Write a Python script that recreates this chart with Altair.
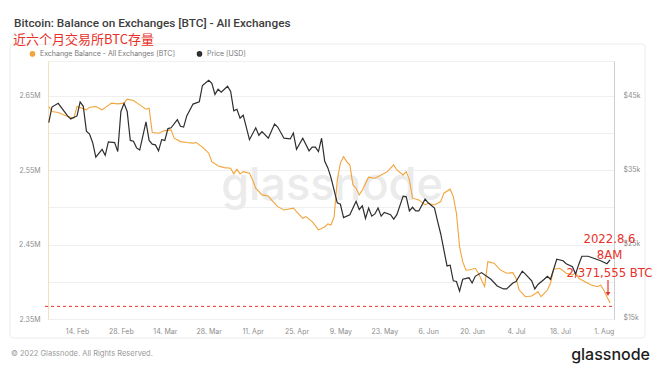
import altair as alt
import pandas as pd

# ---------------- data ----------------
price_dates = [
    "02-05", "02-06", "02-08", "02-11", "02-12", "02-14", "02-15", "02-16", "02-17", "02-18",
    "02-19", "02-20", "02-22", "02-23", "02-24", "02-26", "02-27", "02-28", "03-01", "03-02",
    "03-03", "03-04", "03-05", "03-06", "03-08", "03-09", "03-10", "03-11", "03-12", "03-13",
    "03-14", "03-15", "03-16", "03-18", "03-19", "03-20", "03-21", "03-23", "03-25", "03-26",
    "03-28", "03-29", "03-30", "03-31", "04-01", "04-03", "04-04", "04-05", "04-06", "04-07",
    "04-08", "04-10", "04-12", "04-13", "04-14", "04-16", "04-18", "04-19", "04-21", "04-23",
    "04-24", "04-25", "04-27", "04-29", "04-30", "05-01", "05-02", "05-03", "05-04", "05-05",
    "05-06", "05-08", "05-09", "05-10", "05-12", "05-14", "05-15", "05-16", "05-17", "05-18",
    "05-19", "05-20", "05-21", "05-22", "05-23", "05-25", "05-26", "05-27", "05-29", "05-30",
    "05-31", "06-01", "06-02", "06-03", "06-05", "06-06", "06-08", "06-09", "06-10", "06-12",
    "06-13", "06-14", "06-15", "06-16", "06-17", "06-19", "06-20", "06-21", "06-23", "06-26",
    "06-28", "06-30", "07-01", "07-03", "07-04", "07-06", "07-07", "07-09", "07-10", "07-11",
    "07-13", "07-14", "07-15", "07-17", "07-19", "07-20", "07-22", "07-23", "07-24", "07-25",
    "07-27", "07-29", "07-31", "08-02", "08-03",
]
price_usd = [
    41300, 43400, 43900, 42200, 41800, 42200, 44100, 43500, 40150, 39750,
    38600, 36650, 37700, 36900, 38700, 38600, 37400, 42800, 43900, 42800,
    38900, 38800, 37900, 37600, 41400, 38900, 38400, 38300, 37500, 39000,
    38900, 40500, 40600, 41700, 40800, 40700, 42200, 43800, 44100, 46300,
    47000, 46600, 45100, 45800, 45400, 46200, 45500, 42900, 43100, 41900,
    42300, 39000, 40600, 39600, 40100, 39200, 41100, 40700, 39200, 39100,
    39900, 37700, 39200, 37500, 38000, 38000, 37400, 39200, 36100, 35200,
    33900, 30500, 30300, 28500, 28900, 30700, 29600, 30100, 28400, 29800,
    28700, 29000, 29800, 28700, 29200, 28900, 28300, 28900, 31400, 31300,
    29400, 29900, 29400, 29400, 31000, 30500, 29800, 28000, 26300, 22000,
    22100, 20000, 19900, 18600, 20200, 20400, 19700, 20600, 21100, 20200,
    19300, 18900, 18900, 19700, 19900, 21300, 20900, 20000, 18900, 19500,
    20200, 20600, 20200, 22900, 22700, 22300, 21900, 20900, 22200, 23300,
    23300, 23000, 22700, 22300, 22800,
]

balance_dates = [
    "02-05", "02-06", "02-08", "02-11", "02-13", "02-14", "02-17", "02-18", "02-20", "02-22",
    "02-25", "02-27", "03-01", "03-02", "03-04", "03-06", "03-08", "03-09", "03-10", "03-12",
    "03-14", "03-16", "03-17", "03-19", "03-21", "03-23", "03-24", "03-26", "03-28", "03-29",
    "03-31", "04-02", "04-04", "04-05", "04-06", "04-07", "04-08", "04-10", "04-11", "04-12",
    "04-14", "04-16", "04-17", "04-19", "04-21", "04-24", "04-25", "04-27", "04-28", "04-30",
    "05-02", "05-04", "05-05", "05-06", "05-07", "05-08", "05-09", "05-10", "05-11", "05-12",
    "05-13", "05-14", "05-15", "05-16", "05-18", "05-20", "05-22", "05-24", "05-25", "05-26",
    "05-27", "05-29", "05-30", "05-31", "06-01", "06-03", "06-05", "06-06", "06-08", "06-10",
    "06-11", "06-13", "06-14", "06-15", "06-16", "06-17", "06-18", "06-19", "06-21", "06-22",
    "06-24", "06-25", "06-27", "06-29", "07-01", "07-03", "07-04", "07-05", "07-07", "07-09",
    "07-11", "07-12", "07-14", "07-15", "07-16", "07-18", "07-20", "07-22", "07-23", "07-24",
    "07-26", "07-28", "07-30", "07-31", "08-01", "08-02", "08-03",
]
balance_btc = [
    2635700, 2629000, 2627700, 2622300, 2620100, 2635700, 2631300, 2634900, 2635700, 2631300,
    2640300, 2639400, 2640300, 2645700, 2643800, 2638000, 2632200, 2633600, 2600700, 2599900,
    2603400, 2604400, 2593200, 2588600, 2587300, 2586500, 2587300, 2581100, 2573000, 2561700,
    2555900, 2553600, 2552800, 2545200, 2551500, 2545200, 2548200, 2546100, 2537100, 2525900,
    2516900, 2515500, 2510200, 2501100, 2496700, 2499000, 2494400, 2485500, 2487700, 2481000,
    2469800, 2473800, 2477900, 2476500, 2487700, 2537100, 2559600, 2568400, 2561700, 2557300,
    2530300, 2525900, 2516900, 2523600, 2540700, 2539400, 2543800, 2548200, 2552800, 2557300,
    2550500, 2543800, 2548200, 2537100, 2512500, 2510200, 2503400, 2505700, 2503400, 2507900,
    2519200, 2524600, 2514600, 2492300, 2447300, 2427100, 2416000, 2416000, 2418200, 2411500,
    2393500, 2427100, 2425000, 2416000, 2411500, 2412300, 2404800, 2389000, 2380000, 2381000,
    2386700, 2380000, 2389000, 2398000, 2416900, 2418200, 2411500, 2409200, 2412300, 2404800,
    2400200, 2395800, 2393500, 2395800, 2389000, 2380000, 2371555,
]

reference_level = 2367000          # red dashed line
balance_ticks = [2350000, 2400000, 2450000, 2500000, 2550000, 2600000, 2650000]
price_ticks = [15000, 25000, 35000, 45000]
x_tick_dates = ["02-14", "02-28", "03-14", "03-28", "04-11", "04-25", "05-09",
                "05-23", "06-06", "06-20", "07-04", "07-18", "08-01"]

BAL_LABEL = "Exchange Balance - All Exchanges [BTC]"
PRICE_LABEL = "Price [USD]"
title_text = "Bitcoin: Balance on Exchanges [BTC] - All Exchanges"
subtitle_text = "近六个月交易所BTC存量"
annotation_lines = ["2022.8.6", "8AM", "2,371,555 BTC"]
footer_text = "© 2022 Glassnode. All Rights Reserved."
logo_text = "glassnode"

# ---------------- styling ----------------
ORANGE = "#f2a43a"
BLACK = "#2e2e2e"
RED = "#e8312a"
GREY_TXT = "#8c8c8c"
FONT = "Inter"
NARROW = "DejaVu Sans Condensed, Roboto, sans-serif"

W, H = 566, 258

bal_df = pd.DataFrame({
    "date": pd.to_datetime(["2022-" + d for d in balance_dates]),
    "balance": balance_btc,
    "series": BAL_LABEL,
})
price_df = pd.DataFrame({
    "date": pd.to_datetime(["2022-" + d for d in price_dates]),
    "price": price_usd,
    "series": PRICE_LABEL,
})

x_scale = alt.Scale(domain=[alt.DateTime(year=2022, month=2, date=4, hours=18),
                            alt.DateTime(year=2022, month=8, date=4, hours=6)])
x_axis = alt.Axis(
    values=[alt.DateTime(year=2022, month=int(d[:2]), date=int(d[3:])) for d in x_tick_dates],
    format="%-d. %b", labelFontSize=7, labelColor=GREY_TXT, labelFont=FONT,
    ticks=False, grid=False, domain=False, labelPadding=8, title=None,
)
bal_scale = alt.Scale(domain=[2350000, 2697000], nice=False, zero=False)
price_scale = alt.Scale(domain=[14850, 49600], nice=False, zero=False)

color = alt.Color(
    "series:N",
    scale=alt.Scale(domain=[BAL_LABEL, PRICE_LABEL], range=[ORANGE, BLACK]),
    legend=alt.Legend(
        orient="none", legendX=-19, legendY=-11, direction="horizontal", title=None,
        symbolType="circle", symbolSize=9, symbolStrokeWidth=2.6,
        labelFontSize=7, labelColor="#777777", labelFont=FONT, columnPadding=17,
        labelOffset=4,
    ),
)

one = pd.DataFrame({"k": [0]})

frame = alt.Chart(one).mark_rect(
    fillOpacity=0, stroke="#ececec", strokeWidth=1, cornerRadius=3
).encode(x=alt.value(-38), x2=alt.value(597), y=alt.value(-17), y2=alt.value(277))

watermark = alt.Chart(one).mark_text(
    text="glassnode", font=FONT, fontSize=45, fontWeight=500, color="#ebebeb",
    align="center", baseline="alphabetic",
).encode(x=alt.value(284), y=alt.value(139))

bal_line = alt.Chart(bal_df).mark_line(strokeWidth=1.1).encode(
    x=alt.X("date:T", scale=x_scale, axis=x_axis),
    y=alt.Y("balance:Q", scale=bal_scale, axis=alt.Axis(
        values=balance_ticks,
        labelExpr="round(datum.value/10000) % 10 == 5 ? format(datum.value/1e6, '.2f') + 'M' : ''",
        orient="left", grid=True, gridColor="#efefef", ticks=False,
        domain=True, domainColor="#f7dfbd", labelFontSize=7, labelColor=GREY_TXT,
        labelFont=FONT, labelPadding=8, title=None,
    )),
    color=color,
)

ref_rule = alt.Chart(one).mark_rule(color=RED, strokeDash=[3, 3], strokeWidth=1).encode(
    y=alt.datum(reference_level, scale=bal_scale),
    x=alt.value(-3), x2=alt.value(W),
)

price_line = alt.Chart(price_df).mark_line(strokeWidth=1.2).encode(
    x=alt.X("date:T", scale=x_scale, axis=x_axis),
    y=alt.Y("price:Q", scale=price_scale, axis=alt.Axis(
        values=price_ticks,
        labelExpr="'$' + format(datum.value/1000, 'd') + 'k'",
        orient="right", grid=False, ticks=False, domain=True, domainColor="#cfcfcf",
        labelFontSize=7, labelColor=GREY_TXT, labelFont=FONT, labelPadding=9, title=None,
    )),
    color=color,
)

left_layer = alt.layer(bal_line, ref_rule)

texts = []
texts.append(alt.Chart(one).mark_text(
    text=title_text, font="Roboto", fontSize=11.8, fontWeight=500, color="#3d3d3d",
    align="left", baseline="alphabetic").encode(x=alt.value(-34), y=alt.value(-34)))
texts.append(alt.Chart(one).mark_text(
    text=subtitle_text, font="Noto Sans CJK SC", fontSize=13, color=RED,
    align="left", baseline="alphabetic").encode(x=alt.value(-35), y=alt.value(-17.5)))
texts.append(alt.Chart(one).mark_text(
    text=footer_text, font=FONT, fontSize=7.5, color="#999999",
    align="left", baseline="middle").encode(x=alt.value(-37), y=alt.value(293)))
texts.append(alt.Chart(one).mark_text(
    text=logo_text, font=FONT, fontSize=16, fontWeight=500, color="#1c1c1c",
    align="right", baseline="alphabetic").encode(x=alt.value(602), y=alt.value(299)))
for line, yy in zip(annotation_lines, [182, 198, 216]):
    texts.append(alt.Chart(one).mark_text(
        text=line, font=NARROW, fontSize=13, color=RED,
        align="center", baseline="alphabetic").encode(x=alt.value(561.5), y=alt.value(yy)))

arrow_shaft = alt.Chart(one).mark_rule(color=RED, strokeWidth=1.2).encode(
    x=alt.value(560), y=alt.value(219), y2=alt.value(233))
arrow_head = alt.Chart(one).mark_point(
    shape="triangle-down", filled=True, color=RED, size=22, opacity=1).encode(
    x=alt.value(560), y=alt.value(233))

chart = alt.layer(
    frame, watermark, left_layer, price_line, *texts, arrow_shaft, arrow_head
).resolve_scale(y="independent").properties(
    width=W, height=H,
    padding={"left": 40, "top": 53, "right": 38, "bottom": 45},
    autosize=alt.AutoSizeParams(type="none"),
    background="white",
).configure_view(stroke="#f0f0f0")

chart.save("out.html", embed_options={"renderer": "svg", "actions": False})
